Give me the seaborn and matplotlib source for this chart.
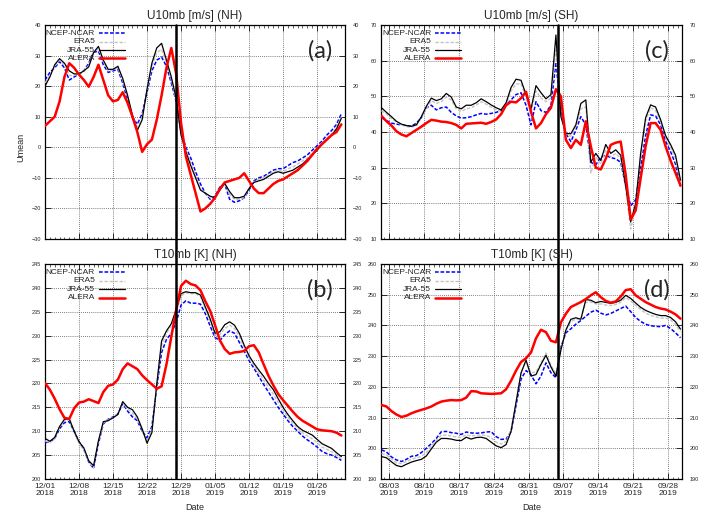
import pandas as pd
import matplotlib
matplotlib.use("Agg")
import matplotlib.pyplot as plt
import matplotlib.dates as mdates
from matplotlib.lines import Line2D
import seaborn as sns

sns.set_style("white")
plt.rcParams["font.family"] = ["Liberation Sans", "DejaVu Sans"]

# ---------------- data: daily means ----------------
# NH winter 2018/19, one value per day from 2018-12-01
nh_start = "2018-12-01"
nh_u_ncep = [22, 24.5, 26, 28, 26, 22, 23, 24, 25, 27.5,
             31, 31.5, 27, 24.5, 25, 25.5, 21, 15.5, 10, 7.5,
             11, 18, 25, 28.5, 29.5, 26.5, 21, 15, 5, 0,
             -3.5, -8, -12, -15, -17, -16, -13, -12, -17, -18,
             -17.5, -16.5, -14, -11, -10, -9.5, -8.5, -7.5, -7, -7,
             -6, -5, -4.5, -3.5, -2.5, -1, 0.5, 2, 4, 5.5,
             7.5, 11]
nh_u_era5 = [21, 23.5, 26.5, 28.5, 27, 23.5, 23.5, 24, 25, 26.8,
             31, 32.3, 28, 25, 25.3, 26, 22, 16.3, 10.3, 6.5,
             10, 18.5, 26.5, 31, 32, 27.5, 22, 15.5, 4.5, -1,
             -5, -9.5, -13.5, -15, -16.5, -16.5, -13.5, -12, -15.5, -17,
             -17, -16.5, -13.5, -11.3, -10.5, -10, -9, -8, -7.5, -8,
             -7, -6.5, -5.5, -4.5, -3.5, -2, -0.5, 1.5, 3, 4.5,
             6.5, 10]
nh_u_jra55 = [20, 23, 27, 29, 27.5, 25, 24, 24, 25, 26.3,
              31, 33, 28.5, 25.5, 25.5, 26.5, 22.5, 17, 10.5, 5.5,
              9, 19, 27.5, 32.5, 34, 28.5, 23, 16, 4, -1.5,
              -6, -10, -14, -15, -16, -16.5, -14, -11.8, -14.5, -16.5,
              -16.5, -16, -13.5, -11.5, -11, -10.5, -9.5, -8.5, -8, -8.5,
              -8, -7.5, -6.5, -5.5, -4, -2.5, -1, 1, 2.5, 4,
              6, 9.5]
nh_u_alera = [7, 8.5, 10, 15, 23, 27.5, 26, 23.8, 22, 19.8,
              23, 27, 22, 17, 15, 15.5, 18, 14.5, 10, 5,
              -1.5, 1, 2.5, 9, 17, 26, 32.5, 24, 8, -3,
              -9, -15, -21, -20, -18.5, -16.5, -13.5, -11.5, -11, -10.5,
              -10, -8.5, -11, -13.5, -15, -15, -13.5, -12, -11, -10.5,
              -9.5, -8.5, -7.5, -6, -4.5, -2.5, -0.5, 1, 2.5, 4,
              5, 7.5]

nh_t_ncep = [207.6, 207.8, 208.5, 210.5, 211.8, 212, 210, 207.8, 206.2, 203.6,
             202.2, 207.5, 211.5, 212.5, 213, 213.6, 215.8, 214.2, 213, 212.2,
             210, 208.6, 211, 219.1, 226.5, 229.2, 230.5, 232.8, 236.4, 237.3,
             236.8, 236.8, 236.6, 234.6, 232, 229.6, 229, 230.2, 231, 230.5,
             228.6, 226.8, 224.8, 223.2, 221.5, 219.8, 218.2, 216.6, 215, 213.6,
             212.2, 211, 210, 209, 208.2, 207.5, 206.7, 205.8, 205.3, 205,
             204.5, 203.9]
nh_t_era5 = [208, 207.6, 208.4, 210.8, 212.2, 212.3, 209.8, 207.5, 206, 203.8,
             202.3, 207.6, 211.7, 212.4, 212.9, 213.6, 216, 214.6, 213.8, 212.5,
             210.2, 207.8, 210.5, 219.5, 228, 230.5, 232, 235, 238.3, 239,
             238.8, 238.8, 238.2, 235.6, 233, 230.2, 230.2, 231.5, 232.2, 231.5,
             229.8, 227.5, 225.3, 223.7, 222.2, 220.7, 219.2, 217.8, 216, 214.4,
             212.9, 211.7, 210.6, 209.7, 209, 208.4, 207.6, 206.7, 206.2, 205.7,
             205, 204.3]
nh_t_jra55 = [208.5, 207.9, 208.7, 211, 212.5, 212.6, 210, 207.8, 206.5, 203.8,
              202.8, 208, 212, 212.2, 212.8, 213.5, 216.2, 215, 214.5, 213,
              210.5, 207.5, 209.7, 219.8, 228.9, 231, 232.5, 235.5, 238.8, 239.2,
              239, 239, 238.5, 236, 233.5, 230.5, 230.8, 232.3, 232.9, 232.2,
              230.5, 228, 225.8, 224.2, 222.8, 221.5, 220, 218.7, 216.8, 215,
              213.5, 212.2, 211, 210.2, 209.7, 209.2, 208.3, 207.4, 206.9, 206.4,
              205.5, 204.7]
nh_t_alera = [220.1, 218.7, 216.8, 214.6, 212.8, 212.6, 214.8, 216, 216.2, 216.7,
              216.3, 215.9, 218.2, 219.5, 219.8, 220.8, 223, 224.2, 223.6, 223,
              221.7, 220.7, 219.8, 218.9, 219.4, 224, 229.8, 235.3, 240.4, 241.5,
              240.8, 240.5, 239.5, 237.2, 235.2, 232.2, 229, 227.2, 226.2, 226.5,
              226.6, 226.8, 227.8, 228, 226.5, 224, 221.6, 219.6, 217.8, 216.5,
              215.3, 214.1, 213, 212.2, 211.6, 211, 210.4, 210.2, 210.1, 210,
              209.7, 209.1]

# SH late winter 2019, one value per day from 2019-08-01 12UTC
sh_start = "2019-08-01 12:00"
sh_u_ncep = [44, 43.2, 42.5, 42.2, 42, 41.8, 41.6, 42.5, 44, 46.8,
             47.5, 46.2, 46.8, 47, 45.5, 44.5, 43.9, 44, 44.3, 44.8,
             45.2, 45, 45.2, 45.5, 46, 47.5, 49, 50.5, 51, 47.5,
             42, 48.5, 46, 45.5, 47.5, 59.5, 45.7, 39.6, 37.3, 40.5,
             44.3, 42, 31.5, 30.8, 33, 33.5, 32.8, 32.5, 31.5, 25,
             19.3, 21, 30, 39, 44.8, 44.5, 42, 37.5, 34.5, 31,
             24.5]
sh_u_era5 = [46, 45, 43.8, 42.8, 42, 41.5, 41.3, 41.8, 44, 46.5,
             48.8, 48, 48.5, 49.8, 49, 46.5, 45.8, 46.5, 46.8, 47.5,
             48.5, 47.8, 47, 46.2, 45.8, 47.5, 51.5, 53.5, 53.5, 49.5,
             45.5, 51.5, 49.5, 48.5, 49.5, 63, 44.5, 39.3, 38.8, 41.5,
             46.5, 47, 28.5, 33, 31, 35, 33, 34, 32.5, 24,
             12.8, 19, 33, 43, 46.8, 46, 43, 38.5, 35.8, 32.5,
             25.5]
sh_u_jra55 = [46.8, 45.5, 44.3, 43, 42.2, 41.8, 41.6, 42, 44.3, 47.2,
              49.5, 48.8, 49.3, 50.8, 49.8, 47, 46.5, 47.5, 47.5, 48.2,
              49.3, 48.5, 47.6, 46.8, 46.2, 48.2, 52.5, 54.8, 54.5, 50.5,
              46.5, 53, 51, 49.3, 50.5, 67.2, 44.3, 39.6, 39.5, 42,
              48, 49, 31.5, 34, 32, 36.5, 34, 35, 33.5, 25,
              14.8, 20, 34, 44, 47.6, 47, 43.5, 39, 36.5, 33.5,
              26.5]
sh_u_alera = [44.5, 43, 41.8, 40.2, 39.3, 38.8, 39.7, 40.6, 41.5, 42.5,
              43.4, 43.2, 42.9, 42.8, 42.5, 42, 41, 42.3, 42.4, 42.5,
              42.6, 42.3, 42.8, 43.5, 45, 47.5, 48.5, 48.3, 49.5, 51.3,
              45.7, 41, 42.5, 45, 46.8, 52, 50, 37.8, 35.5, 37.8,
              36.4, 43, 36, 30, 29.5, 32.5, 36.4, 37, 37.3, 28,
              15.5, 18, 27, 36, 42.5, 42.5, 40.6, 36, 32, 28.5,
              25]

sh_t_ncep = [199.5, 198.8, 197.2, 196.2, 195.7, 196.4, 197.4, 197.6, 198.6, 200,
             201.5, 203.2, 205.4, 205.5, 205.1, 204.9, 204.5, 205.3, 205, 204.9,
             205, 205.3, 205.4, 203.8, 202.9, 203, 205.5, 214, 222.5, 225.3,
             224, 221, 223.5, 227.8, 224.6, 223, 233, 237.6, 238.9, 240.4,
             241.6, 243, 244.3, 245, 244, 243.4, 243.9, 244.7, 245.5, 246.3,
             244.5, 242.6, 241.3, 240.4, 239.9, 239.7, 239.6, 240, 239, 237.6,
             236]
sh_t_era5 = [198.3, 197.8, 196.5, 195.3, 195, 195.7, 196.4, 196.9, 197.4, 198.6,
             200.7, 202.7, 204.2, 204.3, 204, 203.7, 203.5, 204.4, 204, 204.2,
             204.3, 204.2, 203.5, 202, 201.4, 202.2, 206, 215, 224.5, 228.5,
             224.5, 224.8, 227.8, 231, 227, 224.2, 232.5, 238.5, 241.3, 242,
             242.2, 247.5, 247.6, 247, 247, 246.6, 246.5, 246.8, 247.5, 249,
             248, 246.5, 245.2, 244, 243.3, 242.8, 242.4, 242.4, 241.8, 240.3,
             238]
sh_t_jra55 = [197.3, 196.9, 195.6, 194.4, 194, 194.8, 195.5, 196, 196.4, 197.5,
              199.8, 202, 203.2, 203.2, 203, 202.6, 202.5, 203.6, 203, 203.5,
              203.6, 203.2, 202, 200.8, 200.2, 201.2, 205.5, 215, 224.5, 228.7,
              223.5, 224, 227.3, 230.3, 226.5, 223.5, 232, 238.5, 242, 242.5,
              242, 248.4, 248.2, 247.4, 247.8, 247.5, 247.2, 247.5, 248.2, 249.8,
              248.8, 247.3, 245.9, 244.9, 244.2, 243.6, 243.2, 243.2, 242.6, 241.2,
              238.8]
sh_t_alera = [214.1, 213.6, 212.1, 211, 210.2, 210.6, 211.4, 212, 212.5, 213,
              213.6, 214.5, 215.2, 215.5, 215.7, 215.6, 215.7, 216.5, 218.6, 218.5,
              217.9, 217.8, 217.7, 217.8, 217.9, 219.2, 222, 225.3, 228.1, 229.3,
              231.2, 235.8, 238.6, 237.8, 235, 234.5, 241, 243.8, 246, 246.8,
              247.6, 248.6, 249.8, 250.8, 249.2, 248, 247.4, 247.8, 249.4, 251.5,
              251.8, 249.8, 248.7, 247.6, 246.8, 246, 245.5, 245.2, 244.5, 243.6,
              242.2]

datasets = ["NCEP-NCAR", "ERA5", "JRA-55", "ALERA"]
nh_event = "2018-12-28"
sh_event = "2019-09-06"

# ---------------- styling ----------------
styles = {
    "NCEP-NCAR": dict(color="#0000ff", linewidth=1.1, linestyle=(0, (2.4, 1.2))),
    "ERA5": dict(color="#c4c4c4", linewidth=1.0, linestyle=(0, (2.4, 1.2))),
    "JRA-55": dict(color="black", linewidth=0.9, linestyle="-"),
    "ALERA": dict(color="#ff0000", linewidth=1.8, linestyle="-"),
}

W, H = 712, 512
fig = plt.figure(figsize=(W / 100, H / 100), dpi=100)


def rect(left, top, right, bottom):
    return [left / W, 1 - bottom / H, (right - left) / W, (bottom - top) / H]


nh_dates = pd.date_range(nh_start, periods=len(nh_u_jra55), freq="D")
sh_dates = pd.date_range(sh_start, periods=len(sh_u_jra55), freq="D")
nh_ticks = pd.date_range("2018-12-01", periods=9, freq="7D")
sh_ticks = pd.date_range("2019-08-03", periods=9, freq="7D")
nh_xlim = (pd.Timestamp("2018-12-01"), pd.Timestamp("2018-12-01") + pd.Timedelta(days=61.75))
sh_xlim = (pd.Timestamp("2019-08-01") + pd.Timedelta(days=0.4),
           pd.Timestamp("2019-08-01") + pd.Timedelta(days=60.8))

panels = [
    dict(rect=rect(45, 25, 345, 239), dates=nh_dates, ticks=nh_ticks, xlim=nh_xlim,
         series=[nh_u_ncep, nh_u_era5, nh_u_jra55, nh_u_alera],
         ylim=(-30, 40), ystep=10, title="U10mb [m/s] (NH)", tag="(a)",
         bottom=False, event=nh_event),
    dict(rect=rect(45, 264, 345, 479), dates=nh_dates, ticks=nh_ticks, xlim=nh_xlim,
         series=[nh_t_ncep, nh_t_era5, nh_t_jra55, nh_t_alera],
         ylim=(200, 245), ystep=5, title="T10mb [K] (NH)", tag="(b)",
         bottom=True, event=nh_event),
    dict(rect=rect(381, 25, 682, 239), dates=sh_dates, ticks=sh_ticks, xlim=sh_xlim,
         series=[sh_u_ncep, sh_u_era5, sh_u_jra55, sh_u_alera],
         ylim=(10, 70), ystep=10, title="U10mb [m/s] (SH)", tag="(c)",
         bottom=False, event=sh_event),
    dict(rect=rect(381, 264, 682, 479), dates=sh_dates, ticks=sh_ticks, xlim=sh_xlim,
         series=[sh_t_ncep, sh_t_era5, sh_t_jra55, sh_t_alera],
         ylim=(190, 260), ystep=10, title="T10mb [K] (SH)", tag="(d)",
         bottom=True, event=sh_event),
]

legend_rows = [0.961, 0.922, 0.883, 0.844]

for p in panels:
    ax = fig.add_axes(p["rect"])
    for name, vals in zip(datasets, p["series"]):
        df = pd.DataFrame({"date": p["dates"], "value": vals})
        sns.lineplot(data=df, x="date", y="value", ax=ax, errorbar=None,
                     legend=False, zorder=3, **styles[name])

    lo, hi = p["ylim"]
    yt = list(range(lo, hi + 1, p["ystep"]))
    ax.set_ylim(lo, hi)
    ax.set_yticks(yt)
    ax.set_xlim(*p["xlim"])
    ax.set_xticks(p["ticks"])
    ax.xaxis.set_major_formatter(mdates.DateFormatter("%m/%d\n%Y"))
    ax.xaxis.set_minor_locator(mdates.DayLocator())
    ax.set_xlabel("")
    ax.set_ylabel("")

    ax.grid(True, which="major", color="#555555", linestyle=(0, (1, 1.5)), linewidth=0.6)
    for s in ax.spines.values():
        s.set_color("black")
        s.set_linewidth(0.9)

    ax.tick_params(axis="both", which="major", direction="in", length=4, width=0.7,
                   top=True, right=True, bottom=True, left=True)
    ax.tick_params(axis="x", which="minor", direction="in", length=1.8, width=0.5,
                   top=True, bottom=True)
    ax.tick_params(axis="y", labelsize=4, pad=2.8, labelright=False)
    ax.tick_params(axis="x", labelsize=6, pad=3, labelbottom=p["bottom"])
    for lab in ax.get_xticklabels():
        lab.set_linespacing(1.05)

    # mirrored tick labels on the right
    sec = ax.secondary_yaxis("right")
    sec.set_yticks(yt)
    sec.tick_params(direction="in", length=0, labelsize=4, pad=5.5)
    sec.spines["right"].set_visible(False)

    ax.set_title(p["title"], fontsize=8.5, pad=4.6)
    ax.text(0.917, 0.88, p["tag"], transform=ax.transAxes, ha="center", va="center",
            fontsize=17, family="Lato", zorder=7)

    # key, text to the left of each sample line
    for name, y in zip(datasets, legend_rows):
        ax.text(0.167, y, name, transform=ax.transAxes, ha="right", va="center",
                fontsize=6, zorder=6)
        st = styles[name]
        ax.add_line(Line2D([0.18, 0.267], [y, y], transform=ax.transAxes,
                           color=st["color"], linewidth=st["linewidth"],
                           linestyle=st["linestyle"], zorder=6))

    ev = pd.Timestamp(p["event"])
    if p["bottom"]:
        ax.axvline(ev, color="black", linewidth=1.8, zorder=8)
        ax.set_xlabel("Date", fontsize=6.5)
        ax.xaxis.set_label_coords(0.5, -0.11)
    else:
        ax.axvline(ev, ymin=-0.13, ymax=1, color="black", linewidth=1.8,
                   zorder=8, clip_on=False)

    if p["tag"] == "(a)":
        ax.set_ylabel("Umean", fontsize=6.5)
        ax.yaxis.set_label_coords(-0.065, 0.43)

fig.savefig("out.png", dpi=100, facecolor="white")
